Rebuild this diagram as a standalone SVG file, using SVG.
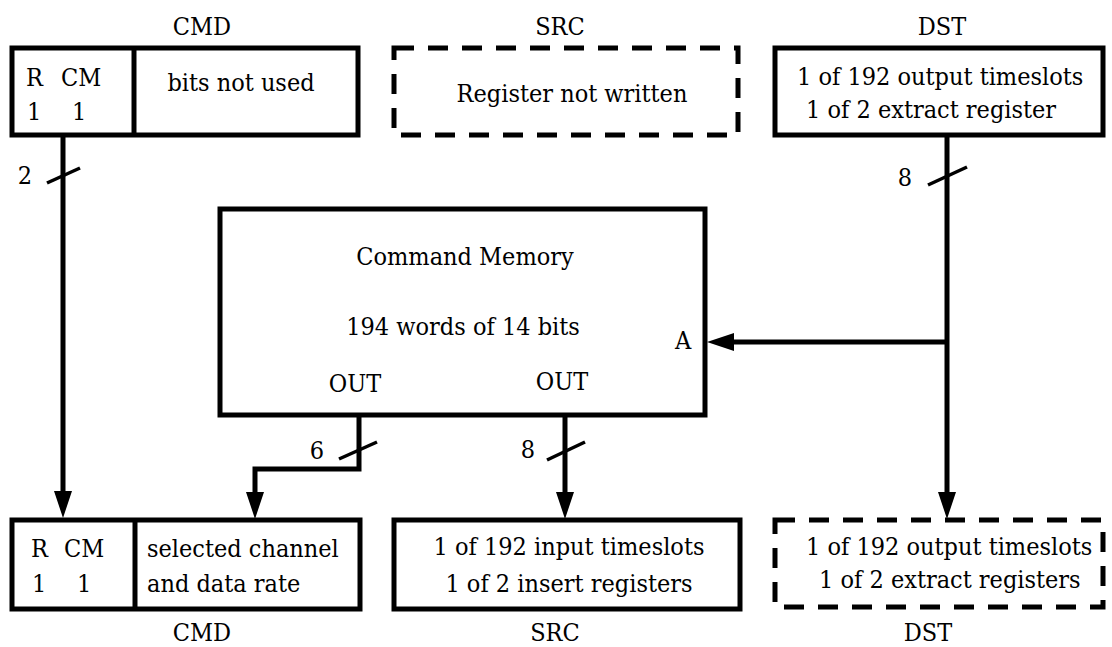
<svg xmlns="http://www.w3.org/2000/svg" width="1112" height="647" viewBox="0 0 1112 647">
<style>
text{font-family:'DejaVu Serif Condensed','DejaVu Serif',serif;font-stretch:condensed;font-size:25px;fill:#000}
.c{text-anchor:middle}
.box{fill:#fff;stroke:#000;stroke-width:5}
.dash{fill:#fff;stroke:#000;stroke-width:5;stroke-dasharray:20 14}
.wire{fill:none;stroke:#000;stroke-width:5}
.slash{fill:none;stroke:#000;stroke-width:3.5}
</style>
<defs>
<marker id="ah" viewBox="0 0 27 18" refX="12" refY="9" markerWidth="27" markerHeight="18" markerUnits="userSpaceOnUse" orient="auto">
<path d="M0,0 L27,9 L0,18 z" fill="#000"/>
</marker>
</defs>

<g id="connectors">
<path class="wire" d="M63,137 V503" marker-end="url(#ah)"/>
<path class="wire" d="M947,137 V504" marker-end="url(#ah)"/>
<path class="wire" d="M947,342 H722" marker-end="url(#ah)"/>
<path class="wire" d="M359,417 V469 H255 V504" marker-end="url(#ah)"/>
<path class="wire" d="M565,417 V504" marker-end="url(#ah)"/>
<line class="slash" x1="47" y1="183" x2="80" y2="168"/>
<text class="c" x="25" y="184">2</text>
<line class="slash" x1="928" y1="185" x2="967" y2="167"/>
<text class="c" x="905" y="186">8</text>
<line class="slash" x1="339" y1="459" x2="377" y2="442"/>
<text class="c" x="317" y="459">6</text>
<line class="slash" x1="547" y1="460" x2="585" y2="442"/>
<text class="c" x="528" y="458">8</text>
</g>

<g id="cmd-top">
<text class="c" x="202" y="35">CMD</text>
<rect class="box" x="12" y="48" width="346" height="87"/>
<line class="wire" x1="134" y1="48" x2="134" y2="135"/>
<text x="26" y="86">R</text>
<text x="61" y="86">CM</text>
<text x="27" y="120">1</text>
<text x="72" y="120">1</text>
<text class="c" x="241" y="91">bits not used</text>
</g>

<g id="src-top">
<text class="c" x="560" y="35">SRC</text>
<rect class="dash" x="394" y="48" width="344" height="87"/>
<text class="c" x="572" y="102">Register not written</text>
</g>

<g id="dst-top">
<text class="c" x="942" y="35">DST</text>
<rect class="box" x="775" y="48" width="328" height="87"/>
<text x="797" y="85">1 of 192 output timeslots</text>
<text x="806" y="118">1 of 2 extract register</text>
</g>

<g id="command-memory">
<rect class="box" x="220" y="209" width="485" height="206"/>
<text class="c" x="465" y="265">Command Memory</text>
<text class="c" x="463" y="335">194 words of 14 bits</text>
<text class="c" x="683" y="349">A</text>
<text class="c" x="355" y="392">OUT</text>
<text class="c" x="562" y="390">OUT</text>
</g>

<g id="cmd-bottom">
<rect class="box" x="12" y="520" width="348" height="89"/>
<line class="wire" x1="135" y1="520" x2="135" y2="609"/>
<text x="31" y="557">R</text>
<text x="64" y="557">CM</text>
<text x="32" y="592">1</text>
<text x="77" y="592">1</text>
<text x="147" y="557">selected channel</text>
<text x="147" y="592">and data rate</text>
<text class="c" x="202" y="641">CMD</text>
</g>

<g id="src-bottom">
<rect class="box" x="394" y="520" width="346" height="89"/>
<text class="c" x="569" y="555">1 of 192 input timeslots</text>
<text class="c" x="569" y="592">1 of 2 insert registers</text>
<text class="c" x="555" y="641">SRC</text>
</g>

<g id="dst-bottom">
<rect class="dash" x="775" y="520" width="328" height="87"/>
<text x="806" y="555">1 of 192 output timeslots</text>
<text x="819" y="588">1 of 2 extract registers</text>
<text class="c" x="928" y="641">DST</text>
</g>
</svg>
